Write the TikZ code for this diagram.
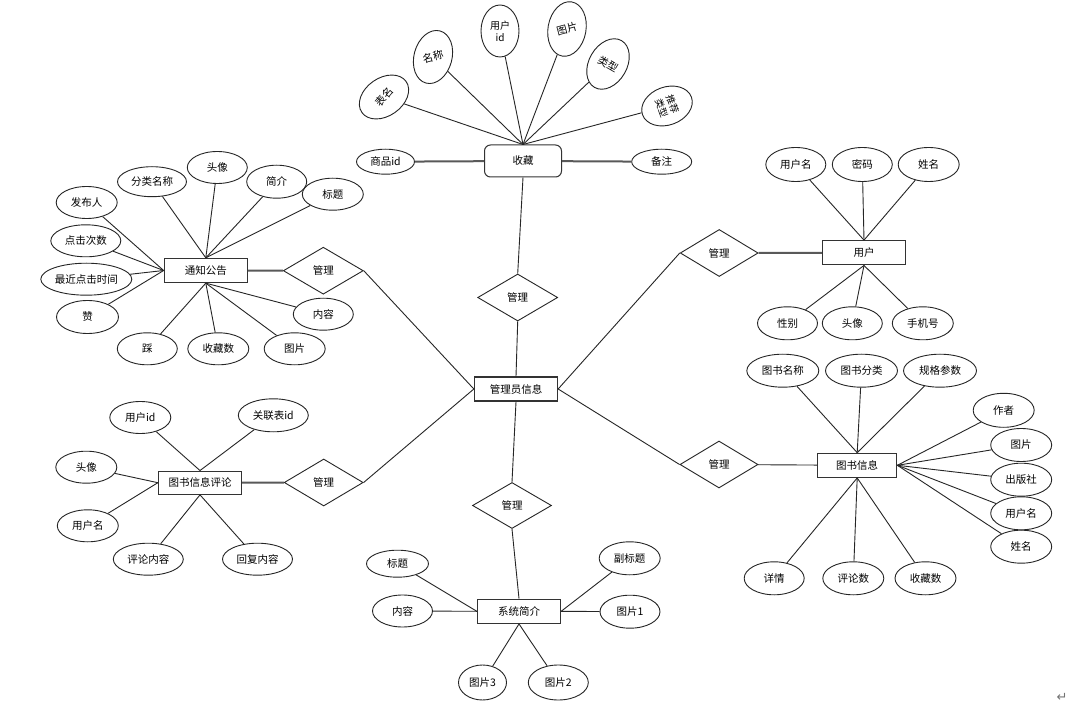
\documentclass[tikz,border=0pt]{standalone}
\usepackage{fontspec}
\usepackage{graphicx}
\setmainfont{Noto Sans CJK SC}
\newfontfamily\djv{DejaVu Sans}
\usetikzlibrary{shapes.geometric}
\begin{document}
\begin{tikzpicture}[x=1pt,y=-1pt,
  txt/.style={font=\fontsize{10.5}{12}\selectfont},
  attr/.style={draw=black!85, line width=0.9pt, ellipse, inner sep=0pt, minimum width=#1, minimum height=32pt, txt},
  attr/.default=61pt,
  ent/.style={draw=black!80, line width=1.3pt, rectangle, minimum width=83pt, minimum height=24pt, inner sep=0pt, txt},
  rel/.style={draw=black!85, line width=0.9pt, diamond, aspect=1.7, minimum width=80pt, minimum height=47pt, inner sep=0pt, txt},
  ln/.style={draw=black!85, line width=0.9pt},
  tl/.style={draw=black!65, line width=2pt}]
\useasboundingbox[fill=white] (0,0) rectangle (1074,711);

% ---------- 收藏 ----------
\node[ent, rounded corners=6pt, minimum width=77pt, minimum height=32pt, line width=1pt] (sc) at (523,161) {收藏};
\node[attr=58pt, minimum height=25pt] (spid) at (385.5,161.7) {商品id};
\node[attr=60pt, minimum height=25pt] (bz) at (661.7,161.7) {备注};
\node[attr=54pt, minimum height=38pt, rotate=35] (bm) at (384,97) {\rotatebox{15}{表名}};
\node[attr=54pt, minimum height=38pt, rotate=75] (mc) at (433,57) {\rotatebox{-60}{名称}};
\node[attr=38pt, minimum height=52pt, align=center, font=\fontsize{10}{12}\selectfont] (yhid) at (500,31) {用户\\id};
\node[attr=55pt, minimum height=38pt, rotate=80] (tp0) at (567,29) {\rotatebox{-65}{图片}};
\node[attr=54pt, minimum height=38pt, rotate=60] (lx) at (608,64) {\rotatebox{-90}{类型}};
\node[attr=52pt, minimum height=38pt, rotate=20, font=\fontsize{9.5}{10.5}\selectfont] (tjlx) at (667,106) {\rotatebox{-90}{\shortstack{推荐\\类型}}};
\foreach \a in {bm,mc,yhid,tp0,lx,tjlx} \draw[ln] (\a) -- (sc.north);
\draw[tl] (spid) -- (sc);
\draw[tl] (bz) -- (sc);

% ---------- 中心 ----------
\node[rel] (gl1) at (517.7,297.5) {管理};
\node[ent] (admin) at (516,389) {管理员信息};
\node[rel, minimum width=79pt, minimum height=46pt] (gl2) at (512,505.5) {管理};
\draw[ln] (sc.south) -- (gl1.north);
\draw[ln] (gl1.south) -- (admin.north);
\draw[ln] (admin.south) -- (gl2.north);

% ---------- 系统简介 ----------
\node[ent] (xt) at (519,611.3) {系统简介};
\draw[ln] (gl2.south) -- (xt.north);
\node[attr=62pt, minimum height=27pt] (xbt) at (397.5,563.7) {标题};
\node[attr=60pt] (xnr) at (402.5,611) {内容};
\node[attr=61pt, minimum height=33pt] (xfbt) at (629.7,558.3) {副标题};
\node[attr=60pt, minimum height=33pt] (xtp1) at (630,611.7) {图片1};
\node[attr=48pt, minimum height=35pt] (xtp3) at (482.5,682.5) {图片3};
\node[attr=60pt, minimum height=35pt] (xtp2) at (558.3,682.5) {图片2};
\draw[ln] (xbt) -- (xt.west);
\draw[ln] (xnr) -- (xt.west);
\draw[ln] (xfbt) -- (xt.east);
\draw[ln] (xtp1) -- (xt.east);
\draw[ln] (xtp3) -- (xt.south);
\draw[ln] (xtp2) -- (xt.south);

% ---------- 通知公告 ----------
\node[ent] (tz) at (205.8,270.5) {通知公告};
\node[rel] (gl3) at (323.3,270.7) {管理};
\draw[tl] (tz) -- (gl3);
\draw[ln] (gl3.east) -- (admin.west);
\node[attr=61pt] (tfbr) at (86.7,202.5) {发布人};
\node[attr=69pt, minimum height=30pt] (tflmc) at (152,181.7) {分类名称};
\node[attr=60pt] (ttx) at (217.3,167.5) {头像};
\node[attr=60pt, minimum height=33pt] (tjj) at (276.7,181.7) {简介};
\node[attr=61pt] (tbt) at (332.8,194.2) {标题};
\node[attr=70pt] (tdjcs) at (85.8,240.8) {点击次数};
\node[attr=91pt] (tzjdj) at (86.3,279.2) {最近点击时间};
\node[attr=62pt, minimum height=33pt] (tzan) at (87.5,317) {赞};
\node[attr=60pt] (tcai) at (147.3,348.8) {踩};
\node[attr=61pt] (tscs) at (218.3,348.8) {收藏数};
\node[attr=61pt] (ttp) at (294.7,348.8) {图片};
\node[attr=60pt] (tnr) at (323.3,314.2) {内容};
\foreach \a in {tflmc,ttx,tjj,tbt} \draw[ln] (\a) -- (tz.north);
\foreach \a in {tfbr,tdjcs,tzjdj,tzan} \draw[ln] (\a) -- (tz.west);
\foreach \a in {tcai,tscs,ttp,tnr} \draw[ln] (\a) -- (tz.south);

% ---------- 图书信息评论 ----------
\node[ent, minimum height=23pt] (pl) at (200,482.7) {图书信息评论};
\node[rel, minimum width=79pt] (gl4) at (323.7,482.5) {管理};
\draw[tl] (pl) -- (gl4);
\draw[ln] (gl4.east) -- (admin.west);
\node[attr=61pt] (pyhid) at (140.3,417.5) {用户id};
\node[attr=70pt, minimum height=33pt] (pglb) at (273.3,415.3) {关联表id};
\node[attr=61pt] (ptx) at (86.3,467.2) {头像};
\node[attr=61pt] (pyhm) at (87.8,525.8) {用户名};
\node[attr=70pt] (pplnr) at (148.3,559.2) {评论内容};
\node[attr=70pt] (phfnr) at (257.5,559.2) {回复内容};
\foreach \a in {pyhid,pglb} \draw[ln] (\a) -- (pl.north);
\foreach \a in {ptx,pyhm} \draw[ln] (\a) -- (pl.west);
\foreach \a in {pplnr,phfnr} \draw[ln] (\a) -- (pl.south);

% ---------- 用户 ----------
\node[ent] (yh) at (864,252.8) {用户};
\node[rel, minimum width=78pt] (gl5) at (719.2,253) {管理};
\draw[tl] (gl5) -- (yh);
\draw[ln] (gl5.west) -- (admin.east);
\node[attr=60pt, minimum height=34pt] (uyhm) at (795.8,164.5) {用户名};
\node[attr=60pt, minimum height=34pt] (umm) at (862.3,164.5) {密码};
\node[attr=61pt, minimum height=34pt] (uxm) at (928.7,164.5) {姓名};
\node[attr=60pt, minimum height=33pt] (uxb) at (787.5,323.3) {性别};
\node[attr=60pt, minimum height=33pt] (utx) at (852.3,323.3) {头像};
\node[attr=61pt, minimum height=33pt] (usjh) at (922.8,323.3) {手机号};
\foreach \a in {uyhm,umm,uxm} \draw[ln] (\a) -- (yh.north);
\foreach \a in {uxb,utx,usjh} \draw[ln] (\a) -- (yh.south);

% ---------- 图书信息 ----------
\node[ent, minimum width=79pt] (ts) at (857.2,465.3) {图书信息};
\node[rel, minimum width=78pt] (gl6) at (719,464.5) {管理};
\draw[ln] (gl6) -- (ts);
\draw[ln] (gl6.west) -- (admin.east);
\node[attr=72pt, minimum height=33pt] (bmc) at (782.8,370.7) {图书名称};
\node[attr=72pt, minimum height=33pt] (bfl) at (861.5,370.7) {图书分类};
\node[attr=73pt, minimum height=33pt] (bgg) at (940,370.7) {规格参数};
\node[attr=61pt, minimum height=34pt] (bzz) at (1003.7,410.3) {作者};
\node[attr=61pt, minimum height=33pt] (btp) at (1021.2,445) {图片};
\node[attr=61pt, minimum height=33pt] (bcbs) at (1021.2,479.7) {出版社};
\node[attr=61pt, minimum height=33pt] (byhm) at (1021.2,513.3) {用户名};
\node[attr=61pt, minimum height=33pt] (bxm) at (1021.2,546.7) {姓名};
\node[attr=60pt, minimum height=33pt] (bxq) at (774.2,578.3) {详情};
\node[attr=61pt, minimum height=33pt] (bpls) at (853.3,578.3) {评论数};
\node[attr=61pt, minimum height=33pt] (bscs) at (925.5,578.3) {收藏数};
\foreach \a in {bmc,bfl,bgg} \draw[ln] (\a) -- (ts.north);
\foreach \a in {bzz,btp,bcbs,byhm,bxm} \draw[ln] (\a) -- (ts.east);
\foreach \a in {bxq,bpls,bscs} \draw[ln] (\a) -- (ts.south);

\node[font=\djv\fontsize{13}{14}\selectfont, text=black!55, inner sep=0pt] (ret) at (1062,697) {↵};
\end{tikzpicture}
\end{document}
